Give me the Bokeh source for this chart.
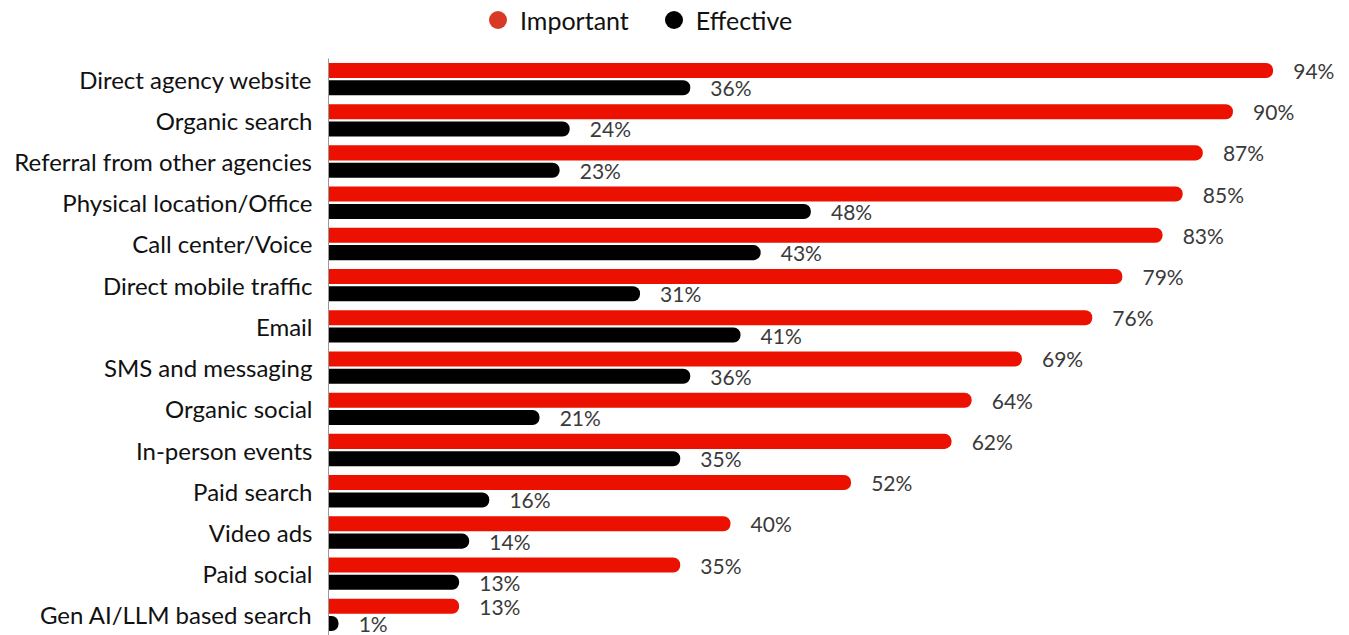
from bokeh.plotting import figure
from bokeh.models import ColumnDataSource, FactorRange, Range1d, Legend, LegendItem
from bokeh.layouts import column
from bokeh.transform import dodge
from bokeh.core.properties import value
from bokeh.embed import file_html
from bokeh.resources import INLINE

categories = ["Direct agency website", "Organic search", "Referral from other agencies",
              "Physical location/Office", "Call center/Voice", "Direct mobile traffic",
              "Email", "SMS and messaging", "Organic social", "In-person events",
              "Paid search", "Video ads", "Paid social", "Gen AI/LLM based search"]
important = [94, 90, 87, 85, 83, 79, 76, 69, 64, 62, 52, 40, 35, 13]
effective = [36, 24, 23, 48, 43, 31, 41, 36, 21, 35, 16, 14, 13, 1]
series_names = ["Important", "Effective"]

RED = "#EB1000"
BLACK = "#000000"
FONT = "Lato"

src = ColumnDataSource(dict(
    cat=categories,
    imp=important,
    eff=effective,
    imp_lbl=[f"{v}%" for v in important],
    eff_lbl=[f"{v}%" for v in effective],
    imp_pos=[v + 2 for v in important],
    eff_pos=[v + 2 for v in effective],
))

# legend strip
lg = figure(width=1349, height=58, output_backend="svg", toolbar_location=None,
            x_range=Range1d(0, 1), y_range=Range1d(0, 1),
            min_border_left=328, min_border_right=0, min_border_top=0, min_border_bottom=0)
lg.axis.visible = False
lg.grid.visible = False
lg.outline_line_color = None
r1 = lg.scatter(x=[-5], y=[-5], marker="circle", fill_color="#D93A26", line_color=None)
r2 = lg.scatter(x=[-5], y=[-5], marker="circle", fill_color=BLACK, line_color=None)
legend = Legend(items=[LegendItem(label=series_names[0], renderers=[r1]),
                       LegendItem(label=series_names[1], renderers=[r2])],
                orientation="horizontal", location=(147, 16),
                label_text_font=FONT, label_text_font_size="25px", label_text_color="#111111",
                glyph_width=45, glyph_height=45, label_standoff=0, spacing=22,
                border_line_color=None, background_fill_alpha=0, padding=0, margin=0)
lg.add_layout(legend, "center")

p = figure(width=1349, height=577, output_backend="svg", toolbar_location=None,
           y_range=FactorRange(factors=list(reversed(categories)), range_padding=0),
           x_range=Range1d(0, 101.6),
           min_border_left=328, min_border_right=0, min_border_top=0, min_border_bottom=0)

p.hbar(y=dodge("cat", 0.21, range=p.y_range), left=0, right="imp", height=0.365,
       source=src, fill_color=RED, line_color=None, border_radius=(0, 7, 7, 0))
p.hbar(y=dodge("cat", -0.21, range=p.y_range), left=0, right="eff", height=0.365,
       source=src, fill_color=BLACK, line_color=None, border_radius=(0, 7, 7, 0))

p.text(x="imp_pos", y=dodge("cat", 0.21, range=p.y_range), text="imp_lbl", source=src,
       text_font=value(FONT), text_font_size="21px", text_color="#3a3a3a", text_baseline="middle")
p.text(x="eff_pos", y=dodge("cat", -0.21, range=p.y_range), text="eff_lbl", source=src,
       text_font=value(FONT), text_font_size="21px", text_color="#3a3a3a", text_baseline="middle")

p.xaxis.visible = False
p.xgrid.visible = False
p.ygrid.visible = False
p.outline_line_color = None

ax = p.yaxis[0]
ax.axis_line_color = "#999999"
ax.major_tick_line_color = None
ax.minor_tick_line_color = None
ax.major_label_text_font = FONT
ax.major_label_text_font_size = "24px"
ax.major_label_text_color = "#111111"
ax.major_label_standoff = 10

layout = column(lg, p, spacing=0)
open("out.html", "w").write(file_html(layout, INLINE))
